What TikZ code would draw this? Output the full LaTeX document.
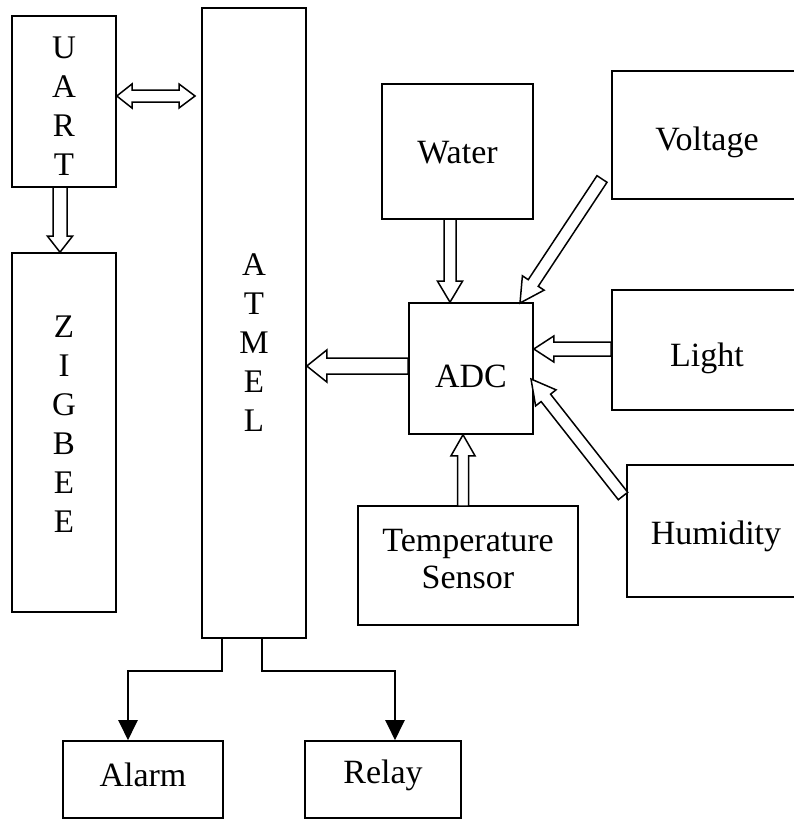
\documentclass[tikz,border=0pt]{standalone}
\usepackage{fontspec}
\setmainfont{Liberation Serif}
\usetikzlibrary{calc,arrows.meta}
\tikzset{
  box/.style={draw, line width=1.6pt, inner sep=0pt},
  lbl/.style={font=\fontsize{34}{37}\selectfont, align=center, inner sep=0pt},
  vlbl/.style={font=\fontsize{33}{39}\selectfont, align=center, inner sep=0pt},
  hollow/.style={draw, line width=1.5pt, line join=miter, fill=white},
  wire/.style={draw, line width=2.2pt, -{Triangle[length=20pt,width=19pt]}}
}
% hollow block arrow: start, end, shaft half-width, head half-width, head length
\newcommand{\blockarrow}[5]{%
  \coordinate (ba-b) at ($(#2)!#5!(#1)$);
  \path[hollow] ($(#1)!#3!90:(#2)$) -- ($(ba-b)!#3!90:(#2)$) -- ($(ba-b)!#4!90:(#2)$) -- (#2)
    -- ($(ba-b)!#4!-90:(#2)$) -- ($(ba-b)!#3!-90:(#2)$) -- ($(#1)!#3!-90:(#2)$) -- cycle;}
\begin{document}
\begin{tikzpicture}[x=1pt,y=-1pt]
\useasboundingbox (0,0) rectangle (794,819);
% boxes
\node[box, minimum width=104pt, minimum height=171pt] (uart) at (64,101.5) {};
\node[vlbl] at (64,106) {U\\A\\R\\T};
\node[box, minimum width=104pt, minimum height=359pt] (zigbee) at (64,432.5) {};
\node[vlbl] at (64,424) {Z\\I\\G\\B\\E\\E};
\node[box, minimum width=104pt, minimum height=630pt] (atmel) at (254,323) {};
\node[vlbl] at (254,343) {A\\T\\M\\E\\L};
\node[box, minimum width=151pt, minimum height=135pt] (water) at (457.5,151.5) {};
\node[lbl] at (457.5,153) {Water};
\node[box, minimum width=124pt, minimum height=131pt] (adc) at (471,368.5) {};
\node[lbl] at (471,376) {ADC};
\node[box, minimum width=188pt, minimum height=128pt] (voltage) at (706,135) {};
\node[lbl] at (707,142) {Voltage};
\node[box, minimum width=188pt, minimum height=120pt] (light) at (706,350) {};
\node[lbl] at (707,358) {Light};
\node[box, minimum width=173pt, minimum height=132pt] (humidity) at (713.5,531) {};
\node[lbl] at (716,536) {Humidity};
\node[box, minimum width=220pt, minimum height=119pt] (temp) at (468,565.5) {};
\node[lbl] at (468,559) {Temperature\\Sensor};
\node[box, minimum width=160pt, minimum height=77pt] (alarm) at (143,779.5) {};
\node[lbl] at (143,775) {Alarm};
\node[box, minimum width=156pt, minimum height=77pt] (relay) at (383,779.5) {};
\node[lbl] at (383,775) {Relay};

% coordinates for block arrows
\coordinate (u1) at (uart.east |- 0,96);
\coordinate (u2) at (195,96);
\coordinate (z1) at (60,187);
\coordinate (z2) at (zigbee.north -| 60,0);
\coordinate (w1) at (450,219);
\coordinate (w2) at (adc.north -| 450,0);
\coordinate (v1) at (602,179);
\coordinate (v2) at (520,303);
\coordinate (l1) at (light.west |- 0,349);
\coordinate (l2) at (adc.east |- 0,349);
\coordinate (h1) at (623,496);
\coordinate (h2) at (531,379);
\coordinate (t1) at (463,506);
\coordinate (t2) at (adc.south -| 463,0);
\coordinate (a1) at (adc.west |- 0,366);
\coordinate (a2) at (atmel.east |- 0,366);

% double arrow UART <-> ATMEL
\path[hollow] (u1) -- (132,84) -- (132,90) -- (179,90) -- (179,84) -- (u2) -- (179,108) -- (179,102) -- (132,102) -- (132,108) -- cycle;
\blockarrow{z1}{z2}{7pt}{12.5pt}{16pt}
\blockarrow{w1}{w2}{6pt}{12.5pt}{21pt}
\blockarrow{v1}{v2}{6pt}{13pt}{24pt}
\blockarrow{l1}{l2}{7pt}{13pt}{20pt}
\blockarrow{h1}{h2}{6pt}{13pt}{24pt}
\blockarrow{t1}{t2}{5.5pt}{12pt}{21pt}
\blockarrow{a1}{a2}{8pt}{16pt}{20pt}

% wires
\coordinate (al0) at (222,638);
\coordinate (re0) at (262,638);
\draw[wire] (al0) -- (222,671) -- (128,671) -- (alarm.north -| 128,0);
\draw[wire] (re0) -- (262,671) -- (395,671) -- (relay.north -| 395,0);
\end{tikzpicture}
\end{document}
